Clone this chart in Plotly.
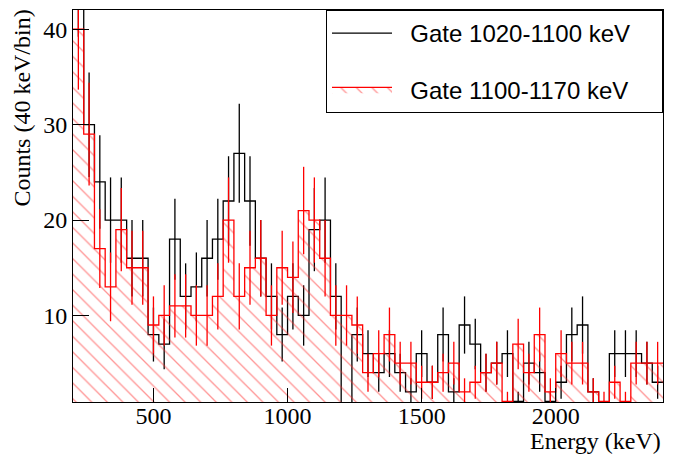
import numpy as np
import plotly.graph_objects as go

# Histogram binning (keV)
e_min, e_max, bin_width = 200, 2400, 40

# Counts per 40 keV bin, gate 1020-1100 keV (black)
gate1_counts = [46, 30, 24, 20, 20, 16, 16, 8, 7, 18,
                12, 13, 16, 18, 22, 27, 22, 16, 12, 8,
                12, 10, 19, 20, 12, 0, 8, 6, 4, 6,
                4, 2, 6, 3, 8, 2, 9, 7, 4, 5,
                6, 1, 5, 4, 1, 3, 8, 9, 2, 0,
                6, 6, 6, 5, 3]

# Counts per 40 keV bin, gate 1100-1170 keV (red, hatched)
gate2_counts = [40, 29, 17, 13, 19, 15, 15, 9, 10, 11,
                11, 10, 10, 12, 20, 12, 15, 16, 10, 15,
                14, 21, 20, 16, 10, 10, 9, 4, 6, 8,
                5, 5, 3, 3, 4, 5, 2, 3, 4, 5,
                1, 7, 4, 8, 2, 6, 5, 5, 2, 1,
                3, 1, 5, 5, 5]

series_names = ["Gate 1020-1100 keV", "Gate 1100-1170 keV"]
x_ticks = [500, 1000, 1500, 2000]
y_ticks = [10, 20, 30, 40]

edges = np.arange(e_min, e_max + bin_width, bin_width)
centers = edges[:-1] + bin_width / 2

NB = "\u00a0"


def step_xy(counts):
    c = list(counts)
    return list(edges), c + [c[-1]]


def legend_name(s):
    return NB * 2 + s + NB * 4


fig = go.Figure()

# Black histogram
bx, by = step_xy(gate1_counts)
fig.add_trace(go.Scatter(x=bx, y=by, mode="lines", line=dict(color="black", width=1.3, shape="hv"),
                         name=legend_name(series_names[0]), legendgroup="g1"))
fig.add_trace(go.Scatter(x=centers, y=gate1_counts, mode="markers",
                         marker=dict(size=1, color="rgba(0,0,0,0)"),
                         error_y=dict(type="data", array=np.sqrt(gate1_counts), color="black",
                                      thickness=1.3, width=0),
                         showlegend=False, hoverinfo="skip", legendgroup="g1"))

# Red hatched histogram
rx, ry = step_xy(gate2_counts)
fig.add_trace(go.Scatter(x=rx, y=ry, mode="lines", line=dict(color="red", width=1.3, shape="hv"),
                         fill="tozeroy", fillcolor="rgba(0,0,0,0)",
                         fillpattern=dict(shape="\\", fgcolor="#ff2a2a",
                                          bgcolor="rgba(0,0,0,0)", size=11, solidity=0.12),
                         name=legend_name(series_names[1]), legendgroup="g2"))
fig.add_trace(go.Scatter(x=centers, y=gate2_counts, mode="markers",
                         marker=dict(size=1, color="rgba(0,0,0,0)"),
                         error_y=dict(type="data", array=np.sqrt(gate2_counts), color="red",
                                      thickness=1.3, width=0),
                         showlegend=False, hoverinfo="skip", legendgroup="g2"))

serif = "Liberation Serif"
fig.update_layout(
    width=677, height=457,
    margin=dict(l=73, r=14, t=10, b=55),
    paper_bgcolor="white", plot_bgcolor="white",
    showlegend=True,
    legend=dict(x=1, y=1, xanchor="right", yanchor="top",
                bgcolor="white", bordercolor="black", borderwidth=1,
                font=dict(family="Liberation Sans", size=24, color="black"),
                itemwidth=60, tracegroupgap=22, traceorder="grouped"),
    xaxis=dict(range=[e_min, e_max], tickvals=x_ticks, ticktext=[str(v) for v in x_ticks],
               ticks="inside", ticklen=14, tickcolor="black", tickwidth=1,
               showline=True, linecolor="black", linewidth=1, mirror=True,
               showgrid=False, zeroline=False, ticklabelstandoff=-8,
               tickfont=dict(family=serif, size=24, color="black")),
    yaxis=dict(range=[0.93, 42.02], tickvals=y_ticks, ticktext=[str(v) for v in y_ticks],
               ticks="inside", ticklen=16, tickcolor="black", tickwidth=1,
               showline=True, linecolor="black", linewidth=1, mirror=True,
               showgrid=False, zeroline=False,
               tickfont=dict(family=serif, size=24, color="black")),
    annotations=[
        dict(text="Energy (keV)", xref="paper", yref="paper", x=1.0, y=-0.10,
             xanchor="right", yanchor="middle", showarrow=False,
             font=dict(family=serif, size=24, color="black")),
        dict(text="Counts (40 keV/bin)", xref="paper", yref="paper", x=-0.088, y=1.005,
             xanchor="center", yanchor="top", textangle=-90, showarrow=False,
             font=dict(family=serif, size=24, color="black")),
    ],
)

fig.write_html("out.html")
